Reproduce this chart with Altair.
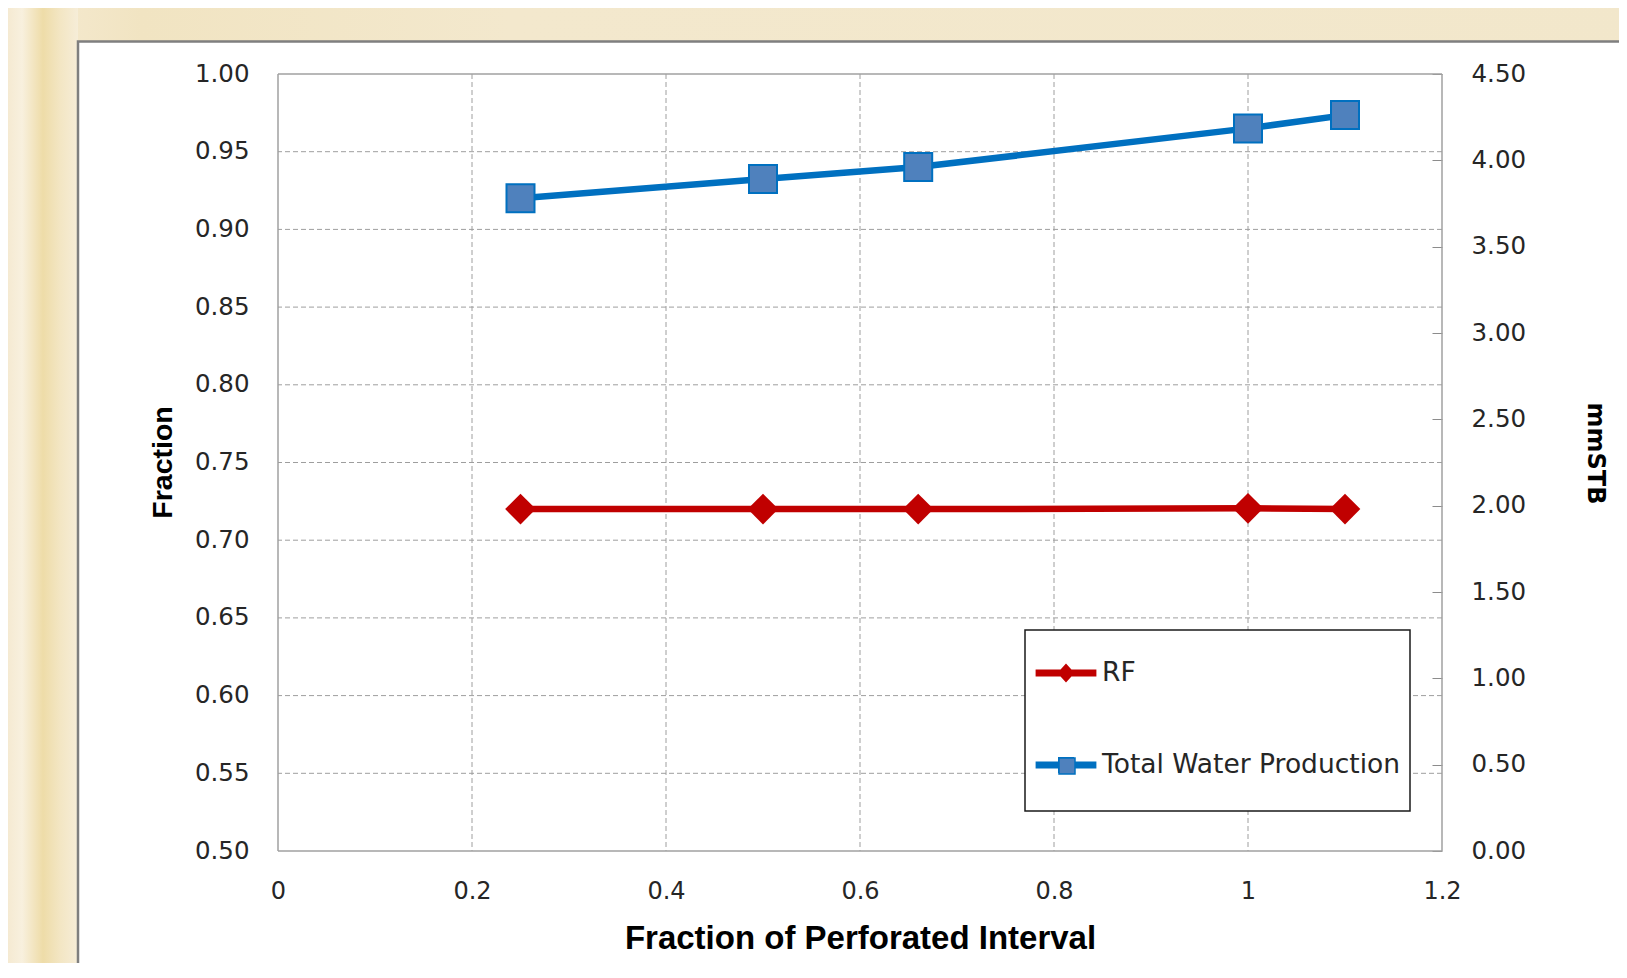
import altair as alt
import pandas as pd

# ---------------- data ----------------
x_vals = [0.25, 0.5, 0.66, 1.0, 1.1]
rf_vals = [0.72, 0.72, 0.72, 0.7205, 0.72]
water_vals = [3.78, 3.892, 3.961, 4.185, 4.262]
series_names = ["RF", "Total Water Production"]
x_ticks = [0, 0.2, 0.4, 0.6, 0.8, 1.0, 1.2]
left_ticks = [0.5, 0.55, 0.6, 0.65, 0.7, 0.75, 0.8, 0.85, 0.9, 0.95, 1.0]
right_ticks = [0, 0.5, 1.0, 1.5, 2.0, 2.5, 3.0, 3.5, 4.0, 4.5]

df = pd.DataFrame({"x": x_vals, "rf": rf_vals, "water": water_vals})

# ---------------- style ----------------
LABEL_FONT = "DejaVu Sans"
TITLE_FONT = "Liberation Sans"
TXT = "#262626"
RED = "#C00000"
BLUE = "#0070C0"
SQ_FILL = "#4F81BD"
GRID = "#9E9E9E"
FRAME = "#A0A0A0"
BEIGE = "#F2E7CB"

W, H = 1164, 777

x_scale = alt.Scale(domain=[0, 1.2], nice=False, zero=False)
left_scale = alt.Scale(domain=[0.5, 1.0], nice=False, zero=False)
right_scale = alt.Scale(domain=[0, 4.5], nice=False, zero=False)

x_axis = alt.Axis(
    values=x_ticks, format="~g", grid=False, ticks=False, tickSize=0, domain=False,
    labelFlush=False, labelOverlap=False,
    labelFont=LABEL_FONT, labelFontSize=24, labelColor=TXT, labelPadding=28,
    title="Fraction of Perforated Interval", titleFont=TITLE_FONT, titleFontSize=33,
    titleFontWeight="bold", titleColor="#000000", titleBaseline="middle", titleY=87,
)
left_axis = alt.Axis(
    values=left_ticks, format=".2f", grid=False, ticks=False, tickSize=0, domain=False,
    labelFlush=False, labelOverlap=False,
    labelFont=LABEL_FONT, labelFontSize=24.5, labelColor=TXT, labelPadding=29,
    title="Fraction", titleFont=TITLE_FONT, titleFontSize=28.5, titleFontWeight="bold",
    titleColor="#000000", titleAngle=270, titleBaseline="middle", titleX=-116, titleY=388,
)
right_axis = alt.Axis(
    orient="right", values=right_ticks, format=".2f", grid=False, ticks=True, tickSize=10,
    tickColor="#8C8C8C", tickWidth=1, domain=False, offset=-10,
    labelFlush=False, labelOverlap=False,
    labelFont=LABEL_FONT, labelFontSize=24.5, labelColor=TXT, labelPadding=29,
    title="mmSTB", titleFont=LABEL_FONT, titleFontSize=24, titleFontWeight="bold",
    titleColor="#000000", titleAngle=90, titleBaseline="middle", titleX=162, titleY=379,
)

def xenc(field="x"):
    return alt.X(f"{field}:Q", scale=x_scale, axis=x_axis)

def ylenc(field):
    return alt.Y(f"{field}:Q", scale=left_scale, axis=left_axis)

def yrenc(field):
    return alt.Y(f"{field}:Q", scale=right_scale, axis=right_axis)

# ---------------- beige surround and panel border ----------------
one = pd.DataFrame({"p": [0]})
bg_top = alt.Chart(one).mark_rect(
    fill=alt.Gradient(
        gradient="linear", x1=0, x2=1, y1=0, y2=0,
        stops=[
            alt.GradientStop(color="#F6EBD3", offset=0),
            alt.GradientStop(color="#F1E4C2", offset=0.08),
            alt.GradientStop(color="#F3E8CD", offset=0.3),
            alt.GradientStop(color=BEIGE, offset=1),
        ],
    )
).encode(x=alt.value(-270), x2=alt.value(1400), y=alt.value(-66), y2=alt.value(-32))
bg_left = alt.Chart(one).mark_rect(
    fill=alt.Gradient(
        gradient="linear", x1=0, x2=1, y1=0, y2=0,
        stops=[
            alt.GradientStop(color="#F5EAD2", offset=0),
            alt.GradientStop(color="#F8F0DE", offset=0.2),
            alt.GradientStop(color="#EEDCA8", offset=0.5),
            alt.GradientStop(color="#F3E6C4", offset=0.75),
            alt.GradientStop(color="#F6EDD8", offset=1),
        ],
    )
).encode(x=alt.value(-270), x2=alt.value(-200), y=alt.value(-66), y2=alt.value(1000))
panel_border = alt.Chart(one).mark_rect(
    fillOpacity=0, stroke="#7F7F7F", strokeWidth=2.5
).encode(x=alt.value(-200), x2=alt.value(1600), y=alt.value(-32.5), y2=alt.value(1100))

# ---------------- legends (their marks sit hidden under the surround) ----------------
box_path = "M-1,-0.4701L1,-0.4701L1,0.4701L-1,0.4701Z"
path_rf = "M-0.95,-0.11L0.95,-0.11L0.95,0.11L-0.95,0.11Z M-0.27,0L0,-0.3L0.27,0L0,0.3Z"
path_tw = "M-0.95,-0.11L0.95,-0.11L0.95,0.11L-0.95,0.11Z M-0.25,-0.25L0.25,-0.25L0.25,0.25L-0.25,0.25Z"

hidden = dict(x=alt.value(-240), y=alt.value(-50))

leg_box = alt.Chart(pd.DataFrame({"box": ["box"]})).mark_point(filled=True, opacity=1, size=1).encode(
    color=alt.Color(
        "box:N", scale=alt.Scale(domain=["box"], range=["white"]),
        legend=alt.Legend(
            orient="none", legendX=746, legendY=453, title=None, padding=0,
            symbolType=box_path, symbolSize=148225, symbolStrokeColor="#1A1A1A",
            symbolStrokeWidth=1.5, symbolOpacity=1, labelExpr="''", labelFontSize=1, labelOffset=0,
        ),
    ),
    **hidden,
)

legend_entries = alt.Legend(
    orient="none", legendX=756, legendY=567, title=None, direction="vertical",
    padding=0, rowPadding=46, symbolSize=4096, symbolStrokeWidth=0, symbolOpacity=1,
    labelFont=LABEL_FONT, labelFontSize=26.5, labelColor=TXT, labelOffset=4, labelLimit=500,
)
leg_entries = alt.Chart(pd.DataFrame({"series": series_names})).mark_point(filled=True, opacity=1, size=1).encode(
    fill=alt.Fill("series:N", scale=alt.Scale(domain=series_names, range=[RED, BLUE]), legend=legend_entries),
    shape=alt.Shape("series:N", scale=alt.Scale(domain=series_names, range=[path_rf, path_tw]), legend=legend_entries),
    **hidden,
)

leg_sq = alt.Chart(pd.DataFrame({"sq": [series_names[1]]})).mark_point(
    filled=True, fill=SQ_FILL, opacity=1, size=1
).encode(
    stroke=alt.Stroke(
        "sq:N", scale=alt.Scale(domain=[series_names[1]], range=[BLUE]),
        legend=alt.Legend(
            orient="none", legendX=780, legendY=683, title=None, padding=0,
            symbolType="square", symbolSize=256, symbolFillColor=SQ_FILL, symbolStrokeWidth=1.5,
            symbolOpacity=1, labelExpr="''", labelFontSize=1, labelOffset=0,
        ),
    ),
    **hidden,
)

# ---------------- grid & frame ----------------
vgrid = alt.Chart(pd.DataFrame({"x": x_ticks[1:-1]})).mark_rule(
    color=GRID, strokeDash=[5, 3], strokeWidth=1
).encode(x=xenc())
vframe = alt.Chart(pd.DataFrame({"x": [x_ticks[0], x_ticks[-1]]})).mark_rule(
    color=FRAME, strokeWidth=1.5
).encode(x=xenc())

hgrid = alt.Chart(pd.DataFrame({"y": left_ticks[1:-1]})).mark_rule(
    color=GRID, strokeDash=[5, 3], strokeWidth=1
).encode(y=ylenc("y"))
hframe = alt.Chart(pd.DataFrame({"y": [left_ticks[0], left_ticks[-1]]})).mark_rule(
    color=FRAME, strokeWidth=1.5
).encode(y=ylenc("y"))

# ---------------- series ----------------
base = alt.Chart(df)
rf_line = base.mark_line(color=RED, strokeWidth=6.5).encode(x=xenc(), y=ylenc("rf"))
rf_pts = base.mark_point(shape="diamond", filled=True, color=RED, size=940, opacity=1).encode(
    x=xenc(), y=ylenc("rf")
)
left_layer = alt.layer(hgrid, hframe, rf_line, rf_pts)

w_line = base.mark_line(color=BLUE, strokeWidth=6.5).encode(x=xenc(), y=yrenc("water"))
w_pts = base.mark_point(
    shape="square", filled=True, fill=SQ_FILL, stroke=BLUE, strokeWidth=2, size=784, opacity=1
).encode(x=xenc(), y=yrenc("water"))
right_layer = alt.layer(w_line, w_pts)

chart = (
    alt.layer(leg_box, leg_entries, leg_sq, bg_top, bg_left, panel_border,
              vgrid, vframe, left_layer, right_layer)
    .resolve_scale(y="independent")
    .properties(
        width=W, height=H, background="white",
        padding={"left": 270, "top": 66, "right": 177, "bottom": 112},
        autosize=alt.AutoSizeParams(type="none"),
    )
    .configure_view(stroke="transparent")
)

chart.save("out.html", embed_options={"renderer": "svg", "actions": False})
